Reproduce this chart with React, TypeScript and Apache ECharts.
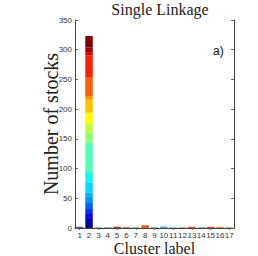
import React, { useEffect, useRef } from "react";
import * as echarts from "echarts";

const categories = ["1","2","3","4","5","6","7","8","9","10","11","12","13","14","15","16","17"];
const yTicks = [0, 50, 100, 150, 200, 250, 300, 350];
// stacked segments of cluster 2, bottom to top
const cluster2Segments = [10, 7, 8, 7, 10, 10, 8, 17, 17, 50, 17, 14, 19, 23, 5, 31, 37, 6, 8, 19];
const cluster2Colors = ["#000090","#0000c0","#0000f0","#0030ff","#0060ff","#0090ff","#00b0ff","#00d8ff","#10f8f0","#50ffb0","#90ff70","#c0ff40","#ffff00","#ffc000","#ff9000","#ff6000","#ff2000","#e00000","#a00000","#800000"];
// other clusters (cluster 2 left empty)
const otherValues = [2, 0, 1.5, 1.5, 2, 1.5, 1.5, 4.5, 1.5, 2.5, 1.5, 1.5, 2, 1.5, 2, 2, 1.5];
const otherColors = ["#4b4bab","#ffffff","#9ab0a8","#7fae9a","#aa2020","#c8903c","#70b0b0","#f05020","#8cb0b0","#40a8f0","#80c0e0","#a0b0a0","#e04020","#70b0a0","#e04030","#e09030","#a0b090"];

export default function App() {
  const ref = useRef<HTMLDivElement>(null);
  useEffect(() => {
    if (!ref.current) return;
    const chart = echarts.init(ref.current, undefined, { renderer: "svg" });
    const series: any[] = cluster2Segments.map((v, i) => ({
      type: "bar",
      stack: "total",
      barWidth: "80%",
      data: categories.map((_, j) => (j === 1 ? v : "-")),
      itemStyle: { color: cluster2Colors[i] },
    }));
    series.unshift({
      type: "bar",
      stack: "total",
      barWidth: "80%",
      data: otherValues.map((v, j) => (j === 1 ? "-" : { value: v, itemStyle: { color: otherColors[j] } })),
    });
    const axisLine = { show: true, lineStyle: { color: "#444", width: 1 } };
    chart.setOption({
      animation: false,
      title: {
        text: "Single Linkage",
        left: 155,
        top: -4,
        textAlign: "center",
        textStyle: { fontFamily: "Liberation Serif", fontSize: 16, fontWeight: "normal", color: "#222" },
      },
      graphic: [
        { type: "text", left: 213, top: 45, style: { text: "a)", font: "12px Liberation Sans", fill: "#111" } },
      ],
      grid: { left: 75, right: 24, top: 20, bottom: 28, outerBoundsMode: "none", containLabel: false },
      xAxis: [
        {
          type: "category",
          data: categories,
          name: "Cluster label",
          nameLocation: "middle",
          nameGap: 12,
          nameMoveOverlap: false,
          nameTextStyle: { fontFamily: "Liberation Serif", fontSize: 16, color: "#222" },
          axisLine,
          axisTick: { show: false },
          axisLabel: { interval: 0, fontSize: 8, color: "#333", margin: 3, fontFamily: "Liberation Sans" },
        },
        {
          type: "category",
          data: categories,
          position: "top",
          axisLine,
          axisTick: { show: true, inside: true, alignWithLabel: true, length: 2, lineStyle: { color: "#666" } },
          axisLabel: { show: false },
        },
      ],
      yAxis: [
        {
          type: "value",
          min: 0,
          max: 350,
          interval: 50,
          name: "Number of stocks",
          nameLocation: "middle",
          nameGap: 14,
          nameMoveOverlap: false,
          nameTextStyle: { fontFamily: "Liberation Serif", fontSize: 20, color: "#222" },
          axisLine,
          axisTick: { show: true, inside: true, length: 3, lineStyle: { color: "#666" } },
          splitLine: { show: false },
          axisLabel: { fontSize: 8, color: "#333", margin: 3, fontFamily: "Liberation Sans",
            formatter: (v: number) => (yTicks.includes(v) ? String(v) : "") },
        },
        {
          type: "value",
          min: 0,
          max: 350,
          interval: 50,
          position: "right",
          axisLine,
          axisTick: { show: true, inside: true, length: 3, lineStyle: { color: "#666" } },
          splitLine: { show: false },
          axisLabel: { show: false },
        },
      ],
      series,
    });
    return () => chart.dispose();
  }, []);
  return <div ref={ref} style={{ position: "absolute", left: 0, top: 0, width: 258, height: 256 }} />;
}
